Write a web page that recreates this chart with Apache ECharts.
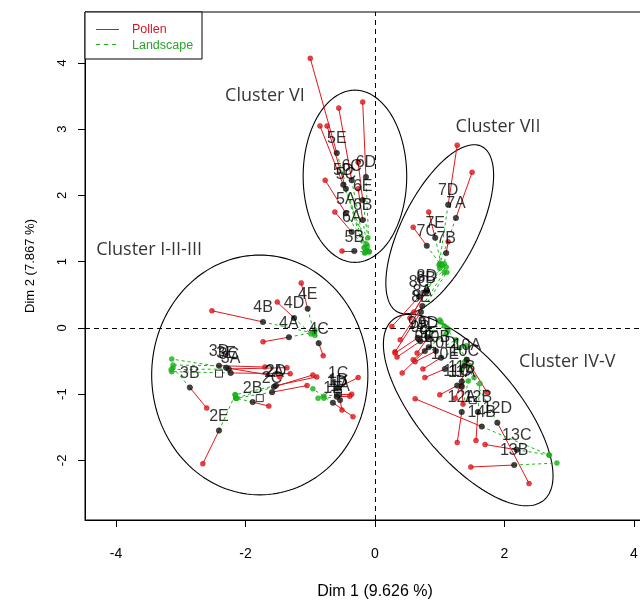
<!DOCTYPE html>
<html><head><meta charset="utf-8">
<script src="https://cdn.jsdelivr.net/npm/echarts@6/dist/echarts.min.js"></script>
<style>html,body{margin:0;padding:0;background:#fff}#c{width:640px;height:600px}</style>
</head><body><div id="c"></div>
<script>
// Individuals (mean points) and their partial points (Pollen / Landscape) on Dim 1 / Dim 2
const ids = ['1A','1B','1C','1D','1E','2A','2B','2C','2D','2E','3A','3B','3C','3D','3E','4A','4B','4C','4D','4E',
 '5A','5B','5C','5D','5E','6A','6B','6C','6D','6E','7A','7B','7C','7D','7E','8A','8B','8C','8D','8E',
 '9A','9B','9C','9D','9E','10A','10B','10C','10D','10E','11A','11B','11C','12A','12B','12D','13B','13C','14B'];
const meanX = [-0.54,-0.57,-0.57,-0.59,-0.65, -1.56,-1.89,-1.59,-1.53,-2.41, -2.23,-2.86,-2.26,-2.41,-2.30, -1.33,-1.73,-0.87,-1.25,-1.04,
 -0.45,-0.32,-0.45,-0.49,-0.59, -0.36,-0.19,-0.36,-0.14,-0.19, 1.25,1.10,0.80,1.13,0.93, 0.73,0.79,0.68,0.80,0.71,
 0.66,0.70,0.77,0.82,0.83, 1.42,0.94,1.38,1.02,1.08, 1.34,1.34,1.27, 1.34,1.59,1.89, 2.15,2.19,1.65];
const meanY = [-1.09,-1.01,-0.90,-1.04,-1.13, -0.89,-1.12,-0.97,-0.87,-1.55, -0.68,-0.90,-0.62,-0.57,-0.60, -0.14,0.09,-0.23,0.15,0.29,
 1.73,1.16,2.10,2.16,2.64, 1.45,1.63,2.23,2.28,1.93, 1.66,1.13,1.24,1.86,1.36, 0.33,0.54,0.47,0.57,0.24,
 -0.15,-0.20,-0.35,-0.14,-0.29, -0.48,-0.35,-0.57,-0.45,-0.62, -0.89,-0.81,-0.87, -1.27,-1.27,-1.43, -2.07,-1.84,-1.49];
const pollenX = [-0.51,-0.36,-0.26,-0.39,-0.34, -0.96,-1.64,-1.05,-0.90,-2.66, -1.31,-2.60,-1.36,-1.70,-1.47, -1.73,-2.52,-0.80,-1.51,-1.14,
 -0.77,-0.51,-0.74,-0.85,-1.00, -0.62,-0.26,-0.56,-0.19,-0.26, 1.50,1.13,0.59,1.27,0.83, 0.39,0.54,0.26,0.60,0.31,
 0.31,0.34,0.42,0.65,0.59, 1.73,0.62,1.34,0.74,0.77, 1.36,1.24,1.00, 1.27,1.56,2.38, 1.48,1.70,0.62];
const pollenY = [-1.24,-1.00,-0.75,-1.03,-1.34, -0.71,-1.18,-0.87,-0.74,-2.05, -0.69,-1.21,-0.60,-0.59,-0.74, -0.21,0.26,-0.42,0.39,0.68,
 2.23,1.16,3.05,3.05,4.07, 1.75,2.10,3.32,3.41,2.50, 2.35,1.30,1.52,2.76,1.75, -0.18,0.15,0.02,0.24,-0.36,
 -0.38,-0.44,-0.68,-0.38,-0.48, -0.97,-0.51,-0.87,-0.62,-0.75, -1.15,-1.06,-1.01, -1.73,-1.70,-2.35, -2.10,-1.76,-1.07];
const landX = [-0.57,-0.79,-0.88,-0.79,-0.96, -2.15,-2.15,-2.13,-2.16,-2.16, -3.14,-3.12,-3.15,-3.12,-3.14, -0.93,-0.94,-0.93,-0.99,-0.93,
 -0.12,-0.14,-0.16,-0.14,-0.17, -0.09,-0.11,-0.15,-0.09,-0.11, 1.00,1.07,1.02,0.99,1.02, 1.07,1.04,1.10,1.00,1.11,
 1.02,1.07,1.13,1.00,1.10, 1.11,1.25,1.41,1.31,1.41, 1.34,1.47,1.53, 1.44,1.62,1.39, 2.81,2.69,2.69];
const landY = [-0.94,-1.03,-1.06,-1.06,-0.92, -1.06,-1.06,-1.06,-1.01,-1.01, -0.66,-0.60,-0.63,-0.56,-0.47, -0.06,-0.08,-0.03,-0.09,-0.11,
 1.23,1.16,1.13,1.27,1.21, 1.15,1.16,1.14,1.15,1.36, 0.97,0.97,0.95,0.95,0.97, 0.84,0.94,0.92,0.90,0.84,
 0.09,0.03,-0.03,0.12,-0.09, 0.00,-0.18,-0.27,-0.30,-0.48, -0.63,-0.57,-0.75, -0.80,-0.84,-0.51, -2.04,-1.92,-1.92];
// open squares
const suppX = [-2.41,-1.78,-0.57,1.51];
const suppY = [-0.69,-1.06,-0.98,-1.09];
// cluster ellipses: centre and two half-axis vectors (data units)
const clusterNames = ['Cluster VI','Cluster VII','Cluster I-II-III','Cluster IV-V'];
const ellCX = [-0.31, 1.00, -1.78, 1.44];
const ellCY = [2.29, 1.49, -0.71, -1.24];
const ellAX = [0.80, 0.65, 1.67, 1.17];
const ellAY = [0.00, 1.25, 0.00, -1.36];
const ellBX = [0.00, 0.52, 0.00, 0.59];
const ellBY = [1.30, -0.26, 1.81, 0.49];
const clusterLabX = [-1.70, 1.90, -3.49, 2.97];
const clusterLabY = [3.51, 3.03, 1.18, -0.51];
const xTicks = [-4,-2,0,2,4];
const yTicks = [-2,-1,0,1,2,3,4];
const xTitle = 'Dim 1 (9.626 %)';
const yTitle = 'Dim 2 (7.867 %)';
const legendNames = ['Pollen','Landscape'];

const RED = '#e3161c', GREEN = '#1db41d', FONT = '"Liberation Sans", Arial, sans-serif';

function ellipsePts(i){
  const pts=[];
  for(let k=0;k<=160;k++){
    const t=2*Math.PI*k/160;
    pts.push([ellCX[i]+ellAX[i]*Math.cos(t)+ellBX[i]*Math.sin(t), ellCY[i]+ellAY[i]*Math.cos(t)+ellBY[i]*Math.sin(t)]);
  }
  return pts;
}
const series = [];
clusterNames.forEach((n,i)=>{
  series.push({type:'line', name:n, data:ellipsePts(i), showSymbol:false, silent:true, z:1,
    lineStyle:{color:'#000', width:1.1}, animation:false});
});
series.push({type:'lines', name:'Pollen', coordinateSystem:'cartesian2d', z:2, silent:true,
  data: ids.map((d,i)=>({coords:[[meanX[i],meanY[i]],[pollenX[i],pollenY[i]]]})),
  lineStyle:{color:RED, width:1, opacity:1}, animation:false});
series.push({type:'lines', name:'Landscape', coordinateSystem:'cartesian2d', z:2, silent:true,
  data: ids.map((d,i)=>({coords:[[meanX[i],meanY[i]],[landX[i],landY[i]]]})),
  lineStyle:{color:GREEN, width:1, type:[3,3], opacity:1}, animation:false});
series.push({type:'scatter', name:'Pollen pts', z:3, symbolSize:5,
  data: ids.map((d,i)=>[pollenX[i],pollenY[i]]), itemStyle:{color:RED, borderColor:'#b00', borderWidth:0.5}});
series.push({type:'scatter', name:'Landscape pts', z:3, symbolSize:5,
  data: ids.map((d,i)=>[landX[i],landY[i]]), itemStyle:{color:GREEN, borderColor:'#0a0', borderWidth:0.5}});
series.push({type:'scatter', name:'Supplementary', z:3, symbol:'rect', symbolSize:7,
  data: suppX.map((x,i)=>[x,suppY[i]]), itemStyle:{color:'#fff', borderColor:'#000', borderWidth:1}});
series.push({type:'scatter', name:'Individuals', z:4, symbolSize:5.5,
  data: ids.map((d,i)=>({name:d, value:[meanX[i],meanY[i]]})),
  itemStyle:{color:'#1a1a1a', borderColor:'#000', borderWidth:0.5},
  label:{show:true, position:'top', distance:3, formatter:'{b}', color:'#000', fontSize:16, fontFamily:FONT},
  labelLayout:{hideOverlap:false},
  markLine:{silent:true, symbol:'none', animation:false,
    lineStyle:{color:'#000', width:1, type:[5,4]}, label:{show:false},
    data:[{xAxis:0},{yAxis:0}]}});
series.push({type:'scatter', name:'Clusters', z:5, symbolSize:0, silent:true,
  data: clusterNames.map((n,i)=>({name:n, value:[clusterLabX[i],clusterLabY[i]]})),
  label:{show:true, position:'inside', formatter:'{b}', color:'#000', fontSize:18, fontFamily:'"Open Sans", sans-serif'}});

const chart = echarts.init(document.getElementById('c'), null, {renderer:'canvas'});
chart.setOption({
  animation:false,
  backgroundColor:'#fff',
  grid:{left:85, top:12, width:580, height:508, outerBoundsMode:'none', containLabel:false,
    show:true, borderColor:'#000', borderWidth:1, backgroundColor:'transparent'},
  xAxis:{type:'value', min:-4.48, max:4.48, splitLine:{show:false},
    axisLine:{show:true, onZero:false, lineStyle:{color:'#000'}},
    axisTick:{show:true, length:7, customValues:xTicks, lineStyle:{color:'#000'}},
    axisLabel:{customValues:xTicks, margin:27, color:'#000', fontSize:14, fontFamily:FONT},
    name:xTitle, nameLocation:'middle', nameGap:64, nameTextStyle:{color:'#000', fontSize:16, fontFamily:FONT}},
  yAxis:{type:'value', min:-2.9, max:4.77, splitLine:{show:false},
    axisLine:{show:true, onZero:false, lineStyle:{color:'#000'}},
    axisTick:{show:true, length:7, customValues:yTicks, lineStyle:{color:'#000'}},
    axisLabel:{customValues:yTicks, margin:16, rotate:90, color:'#000', fontSize:13, fontFamily:FONT},
    name:yTitle, nameLocation:'middle', nameGap:48, nameTextStyle:{color:'#000', fontSize:13, fontFamily:FONT}},
  series:series,
  graphic:[
    {type:'rect', shape:{x:85,y:12,width:117,height:47}, style:{fill:'#fff', stroke:'#000', lineWidth:1}, z:100},
    {type:'line', shape:{x1:96,y1:29.5,x2:119,y2:29.5}, style:{stroke:RED, lineWidth:1}, z:101},
    {type:'text', x:132, y:30, style:{text:legendNames[0], fill:'#d01a28', fontSize:12.5, fontFamily:FONT, verticalAlign:'middle'}, z:101},
    {type:'line', shape:{x1:96,y1:44.5,x2:119,y2:44.5}, style:{stroke:GREEN, lineWidth:1, lineDash:[4,4]}, z:101},
    {type:'text', x:132, y:46, style:{text:legendNames[1], fill:'#2aa52a', fontSize:12.5, fontFamily:FONT, verticalAlign:'middle'}, z:101}
  ]
});
</script></body></html>
